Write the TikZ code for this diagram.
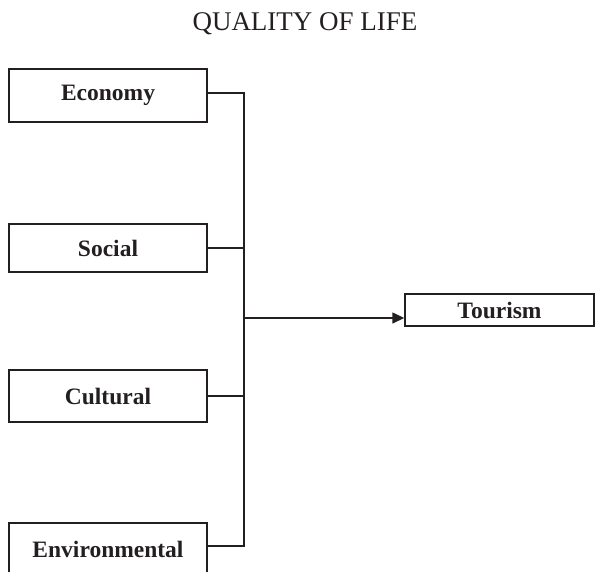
\documentclass[tikz,border=0pt]{standalone}
\usepackage{fontspec}
\setmainfont{Liberation Serif}
\usetikzlibrary{arrows.meta}
\definecolor{ink}{HTML}{231F20}
\begin{document}
\begin{tikzpicture}[x=1pt,y=1pt,
  factor/.style={draw=ink,line width=1.4pt,minimum width=198pt,inner sep=0pt,
     font=\fontsize{23.5}{26}\selectfont\bfseries,text=ink,anchor=center},
  link/.style={draw=ink,line width=1.4pt,line join=miter}]
\useasboundingbox (0,0) rectangle (595,-571);
\node[font=\fontsize{27}{30}\selectfont,text=ink,anchor=base] (title) at (305,-30) {QUALITY OF LIFE};
\node[factor,minimum height=53pt] (eco) at (108,-95.5) {Economy};
\node[factor,minimum height=48pt] (soc) at (108,-248) {Social};
\node[factor,minimum height=52pt] (cul) at (108,-396) {Cultural};
\node[factor,minimum height=52pt] (env) at (108,-549) {Environmental};
\node[factor,minimum width=189pt,minimum height=32pt] (tour) at (499.5,-310) {Tourism};
\coordinate (bustop) at (244,-93);
\coordinate (busbot) at (244,-546);
\coordinate (hub) at (244,-318);
\draw[link] (eco.east |- bustop) -- (bustop) -- (busbot) -- (env.east |- busbot);
\draw[link] (soc.east) -- (soc.east -| bustop);
\draw[link] (cul.east) -- (cul.east -| bustop);
\draw[link,-{Triangle[length=12pt,width=11pt]}] (hub) -- (hub -| tour.west);
\end{tikzpicture}
\end{document}
